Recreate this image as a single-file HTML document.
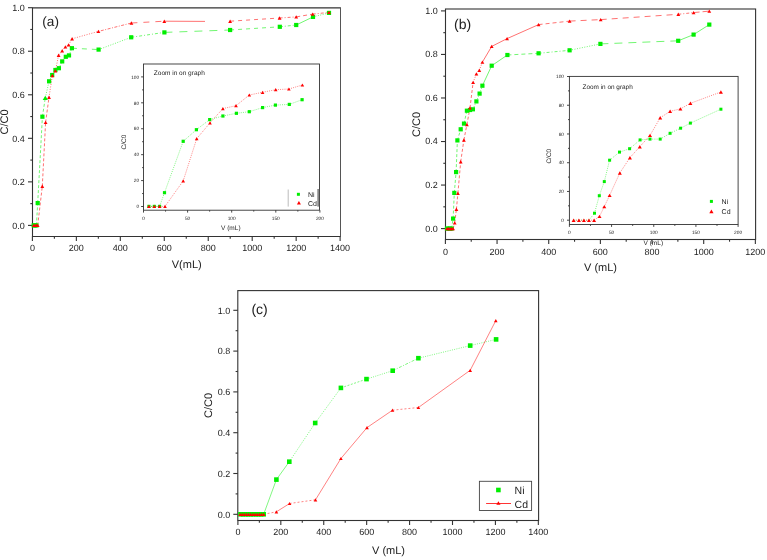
<!DOCTYPE html>
<html><head><meta charset="utf-8"><style>
html,body{margin:0;padding:0;background:#fff;}
body{width:767px;height:560px;overflow:hidden;}
svg{display:block;font-family:"Liberation Sans", sans-serif;text-rendering:geometricPrecision;}
</style></head><body>
<svg width="767" height="560" viewBox="0 0 767 560">
<rect width="767" height="560" fill="#fff"/>
<path d="M340.50,7.90 L32.50,7.90 L32.50,236.50 L340.50,236.50" fill="none" stroke="#333333" stroke-width="1.1"/>
<line x1="340.50" y1="7.35" x2="340.50" y2="237.05" stroke="#555" stroke-width="1.0"/>
<line x1="28.00" y1="225.40" x2="32.50" y2="225.40" stroke="#333333" stroke-width="1.1"/>
<line x1="28.00" y1="181.86" x2="32.50" y2="181.86" stroke="#333333" stroke-width="1.1"/>
<line x1="28.00" y1="138.32" x2="32.50" y2="138.32" stroke="#333333" stroke-width="1.1"/>
<line x1="28.00" y1="94.78" x2="32.50" y2="94.78" stroke="#333333" stroke-width="1.1"/>
<line x1="28.00" y1="51.24" x2="32.50" y2="51.24" stroke="#333333" stroke-width="1.1"/>
<line x1="28.00" y1="7.70" x2="32.50" y2="7.70" stroke="#333333" stroke-width="1.1"/>
<line x1="30.30" y1="203.63" x2="32.50" y2="203.63" stroke="#333333" stroke-width="1.1"/>
<line x1="30.30" y1="160.09" x2="32.50" y2="160.09" stroke="#333333" stroke-width="1.1"/>
<line x1="30.30" y1="116.55" x2="32.50" y2="116.55" stroke="#333333" stroke-width="1.1"/>
<line x1="30.30" y1="73.01" x2="32.50" y2="73.01" stroke="#333333" stroke-width="1.1"/>
<line x1="30.30" y1="29.47" x2="32.50" y2="29.47" stroke="#333333" stroke-width="1.1"/>
<line x1="32.40" y1="236.50" x2="32.40" y2="241.00" stroke="#333333" stroke-width="1.1"/>
<line x1="76.36" y1="236.50" x2="76.36" y2="241.00" stroke="#333333" stroke-width="1.1"/>
<line x1="120.32" y1="236.50" x2="120.32" y2="241.00" stroke="#333333" stroke-width="1.1"/>
<line x1="164.28" y1="236.50" x2="164.28" y2="241.00" stroke="#333333" stroke-width="1.1"/>
<line x1="208.24" y1="236.50" x2="208.24" y2="241.00" stroke="#333333" stroke-width="1.1"/>
<line x1="252.20" y1="236.50" x2="252.20" y2="241.00" stroke="#333333" stroke-width="1.1"/>
<line x1="296.16" y1="236.50" x2="296.16" y2="241.00" stroke="#333333" stroke-width="1.1"/>
<line x1="340.12" y1="236.50" x2="340.12" y2="241.00" stroke="#333333" stroke-width="1.1"/>
<line x1="54.38" y1="236.50" x2="54.38" y2="238.70" stroke="#333333" stroke-width="1.1"/>
<line x1="98.34" y1="236.50" x2="98.34" y2="238.70" stroke="#333333" stroke-width="1.1"/>
<line x1="142.30" y1="236.50" x2="142.30" y2="238.70" stroke="#333333" stroke-width="1.1"/>
<line x1="186.26" y1="236.50" x2="186.26" y2="238.70" stroke="#333333" stroke-width="1.1"/>
<line x1="230.22" y1="236.50" x2="230.22" y2="238.70" stroke="#333333" stroke-width="1.1"/>
<line x1="274.18" y1="236.50" x2="274.18" y2="238.70" stroke="#333333" stroke-width="1.1"/>
<line x1="318.14" y1="236.50" x2="318.14" y2="238.70" stroke="#333333" stroke-width="1.1"/>
<line x1="33.70" y1="225.40" x2="35.00" y2="225.40" stroke="#00ee00" stroke-width="0.8" stroke-dasharray="3,2" stroke-opacity="0.7"/>
<line x1="35.00" y1="225.40" x2="36.40" y2="225.40" stroke="#00ee00" stroke-width="0.8" stroke-dasharray="3,2" stroke-opacity="0.7"/>
<line x1="36.40" y1="225.40" x2="37.70" y2="203.10" stroke="#00ee00" stroke-width="0.8" stroke-dasharray="3,2" stroke-opacity="0.7"/>
<line x1="37.70" y1="203.10" x2="42.40" y2="116.70" stroke="#00ee00" stroke-width="0.8" stroke-dasharray="3,2" stroke-opacity="0.7"/>
<line x1="42.40" y1="116.70" x2="45.30" y2="97.80" stroke="#00ee00" stroke-width="0.8" stroke-dasharray="3,2" stroke-opacity="0.7"/>
<line x1="45.30" y1="97.80" x2="49.10" y2="81.30" stroke="#00ee00" stroke-width="0.8" stroke-dasharray="1,1.5" stroke-opacity="0.7"/>
<line x1="49.10" y1="81.30" x2="52.20" y2="75.00" stroke="#00ee00" stroke-width="0.8" stroke-dasharray="1,1.5" stroke-opacity="0.7"/>
<line x1="52.20" y1="75.00" x2="55.40" y2="70.00" stroke="#00ee00" stroke-width="0.8" stroke-dasharray="1,1.5" stroke-opacity="0.7"/>
<line x1="55.40" y1="70.00" x2="58.90" y2="68.20" stroke="#00ee00" stroke-width="0.8" stroke-dasharray="1,1.5" stroke-opacity="0.7"/>
<line x1="58.90" y1="68.20" x2="62.20" y2="61.40" stroke="#00ee00" stroke-width="0.8" stroke-dasharray="1,1.5" stroke-opacity="0.7"/>
<line x1="62.20" y1="61.40" x2="65.80" y2="56.80" stroke="#00ee00" stroke-width="0.8" stroke-dasharray="1,1.5" stroke-opacity="0.7"/>
<line x1="65.80" y1="56.80" x2="69.00" y2="55.40" stroke="#00ee00" stroke-width="0.8" stroke-dasharray="1,1.5" stroke-opacity="0.7"/>
<line x1="69.00" y1="55.40" x2="71.90" y2="48.20" stroke="#00ee00" stroke-width="0.8" stroke-dasharray="1,1.5" stroke-opacity="0.7"/>
<line x1="71.90" y1="48.20" x2="98.60" y2="49.60" stroke="#00ee00" stroke-width="0.8" stroke-dasharray="5,5" stroke-opacity="0.7"/>
<line x1="98.60" y1="49.60" x2="131.20" y2="37.30" stroke="#00ee00" stroke-width="0.8" stroke-dasharray="1,1.5" stroke-opacity="0.7"/>
<line x1="131.20" y1="37.30" x2="164.40" y2="32.40" stroke="#00ee00" stroke-width="0.8" stroke-dasharray="3,2,1,2" stroke-opacity="0.7"/>
<line x1="164.40" y1="32.40" x2="230.10" y2="30.00" stroke="#00ee00" stroke-width="0.8" stroke-dasharray="8,7" stroke-opacity="0.7"/>
<line x1="230.10" y1="30.00" x2="279.80" y2="26.80" stroke="#00ee00" stroke-width="0.8" stroke-dasharray="4,4" stroke-opacity="0.7"/>
<line x1="279.80" y1="26.80" x2="296.20" y2="25.00" stroke="#00ee00" stroke-width="0.8" stroke-dasharray="3,2,1,2" stroke-opacity="0.7"/>
<line x1="296.20" y1="25.00" x2="313.00" y2="16.90" stroke="#00ee00" stroke-width="0.8" stroke-opacity="0.7"/>
<line x1="313.00" y1="16.90" x2="329.00" y2="12.90" stroke="#00ee00" stroke-width="0.8" stroke-dasharray="1,1.5" stroke-opacity="0.7"/>
<line x1="33.70" y1="225.40" x2="35.00" y2="225.40" stroke="#ff0000" stroke-width="0.8" stroke-dasharray="3,2" stroke-opacity="0.7"/>
<line x1="35.00" y1="225.40" x2="36.40" y2="225.40" stroke="#ff0000" stroke-width="0.8" stroke-dasharray="3,2" stroke-opacity="0.7"/>
<line x1="36.40" y1="225.40" x2="37.70" y2="225.40" stroke="#ff0000" stroke-width="0.8" stroke-dasharray="3,2" stroke-opacity="0.7"/>
<line x1="37.70" y1="225.40" x2="42.30" y2="186.30" stroke="#ff0000" stroke-width="0.8" stroke-dasharray="3,2" stroke-opacity="0.7"/>
<line x1="42.30" y1="186.30" x2="45.60" y2="122.40" stroke="#ff0000" stroke-width="0.8" stroke-dasharray="3,2" stroke-opacity="0.7"/>
<line x1="45.60" y1="122.40" x2="49.00" y2="97.30" stroke="#ff0000" stroke-width="0.8" stroke-dasharray="3,2" stroke-opacity="0.7"/>
<line x1="49.00" y1="97.30" x2="52.40" y2="75.50" stroke="#ff0000" stroke-width="0.8" stroke-dasharray="1,1.5" stroke-opacity="0.7"/>
<line x1="52.40" y1="75.50" x2="55.40" y2="70.90" stroke="#ff0000" stroke-width="0.8" stroke-dasharray="1,1.5" stroke-opacity="0.7"/>
<line x1="55.40" y1="70.90" x2="58.60" y2="55.20" stroke="#ff0000" stroke-width="0.8" stroke-dasharray="1,1.5" stroke-opacity="0.7"/>
<line x1="58.60" y1="55.20" x2="62.20" y2="50.70" stroke="#ff0000" stroke-width="0.8" stroke-dasharray="1,1.5" stroke-opacity="0.7"/>
<line x1="62.20" y1="50.70" x2="65.40" y2="46.90" stroke="#ff0000" stroke-width="0.8" stroke-dasharray="1,1.5" stroke-opacity="0.7"/>
<line x1="65.40" y1="46.90" x2="68.60" y2="44.90" stroke="#ff0000" stroke-width="0.8" stroke-dasharray="1,1.5" stroke-opacity="0.7"/>
<line x1="68.60" y1="44.90" x2="72.10" y2="38.80" stroke="#ff0000" stroke-width="0.8" stroke-dasharray="1,1.5" stroke-opacity="0.7"/>
<line x1="72.10" y1="38.80" x2="98.40" y2="31.40" stroke="#ff0000" stroke-width="0.8" stroke-dasharray="1,1.5" stroke-opacity="0.7"/>
<line x1="98.40" y1="31.40" x2="131.40" y2="23.00" stroke="#ff0000" stroke-width="0.8" stroke-dasharray="1,1.5,3,1.5" stroke-opacity="0.7"/>
<line x1="131.40" y1="23.00" x2="164.30" y2="21.20" stroke="#ff0000" stroke-width="0.8" stroke-dasharray="6,6" stroke-opacity="0.7"/>
<line x1="230.10" y1="21.20" x2="279.60" y2="18.00" stroke="#ff0000" stroke-width="0.8" stroke-dasharray="4,4" stroke-opacity="0.7"/>
<line x1="279.60" y1="18.00" x2="296.20" y2="16.90" stroke="#ff0000" stroke-width="0.8" stroke-dasharray="3,2,1,2" stroke-opacity="0.7"/>
<line x1="296.20" y1="16.90" x2="312.70" y2="14.10" stroke="#ff0000" stroke-width="0.8" stroke-dasharray="4,3" stroke-opacity="0.7"/>
<line x1="312.70" y1="14.10" x2="329.00" y2="12.40" stroke="#ff0000" stroke-width="0.8" stroke-dasharray="3,2,1,2" stroke-opacity="0.7"/>
<line x1="164.30" y1="21.20" x2="205.00" y2="21.40" stroke="#ff0000" stroke-width="0.8" stroke-opacity="0.7"/>
<rect x="31.60" y="223.30" width="4.20" height="4.20" fill="#00ee00"/>
<rect x="32.90" y="223.30" width="4.20" height="4.20" fill="#00ee00"/>
<rect x="34.30" y="223.30" width="4.20" height="4.20" fill="#00ee00"/>
<rect x="35.60" y="201.00" width="4.20" height="4.20" fill="#00ee00"/>
<rect x="40.30" y="114.60" width="4.20" height="4.20" fill="#00ee00"/>
<path d="M42.70,99.90 L47.90,99.90 L45.30,95.70 Z" fill="#00ee00"/>
<rect x="47.00" y="79.20" width="4.20" height="4.20" fill="#00ee00"/>
<rect x="50.10" y="72.90" width="4.20" height="4.20" fill="#00ee00"/>
<rect x="53.30" y="67.90" width="4.20" height="4.20" fill="#00ee00"/>
<rect x="56.80" y="66.10" width="4.20" height="4.20" fill="#00ee00"/>
<rect x="60.10" y="59.30" width="4.20" height="4.20" fill="#00ee00"/>
<rect x="63.70" y="54.70" width="4.20" height="4.20" fill="#00ee00"/>
<rect x="66.90" y="53.30" width="4.20" height="4.20" fill="#00ee00"/>
<rect x="69.80" y="46.10" width="4.20" height="4.20" fill="#00ee00"/>
<rect x="96.50" y="47.50" width="4.20" height="4.20" fill="#00ee00"/>
<rect x="129.10" y="35.20" width="4.20" height="4.20" fill="#00ee00"/>
<rect x="162.30" y="30.30" width="4.20" height="4.20" fill="#00ee00"/>
<rect x="228.00" y="27.90" width="4.20" height="4.20" fill="#00ee00"/>
<rect x="277.70" y="24.70" width="4.20" height="4.20" fill="#00ee00"/>
<rect x="294.10" y="22.90" width="4.20" height="4.20" fill="#00ee00"/>
<rect x="310.90" y="14.80" width="4.20" height="4.20" fill="#00ee00"/>
<rect x="326.90" y="10.80" width="4.20" height="4.20" fill="#00ee00"/>
<path d="M31.80,227.10 L35.60,227.10 L33.70,223.70 Z" fill="#ff0000"/>
<path d="M33.10,227.10 L36.90,227.10 L35.00,223.70 Z" fill="#ff0000"/>
<path d="M34.50,227.10 L38.30,227.10 L36.40,223.70 Z" fill="#ff0000"/>
<path d="M35.80,227.10 L39.60,227.10 L37.70,223.70 Z" fill="#ff0000"/>
<path d="M40.40,188.00 L44.20,188.00 L42.30,184.60 Z" fill="#ff0000"/>
<path d="M43.70,124.10 L47.50,124.10 L45.60,120.70 Z" fill="#ff0000"/>
<path d="M47.10,99.00 L50.90,99.00 L49.00,95.60 Z" fill="#ff0000"/>
<path d="M50.50,77.20 L54.30,77.20 L52.40,73.80 Z" fill="#ff0000"/>
<path d="M53.50,72.60 L57.30,72.60 L55.40,69.20 Z" fill="#ff0000"/>
<path d="M56.70,56.90 L60.50,56.90 L58.60,53.50 Z" fill="#ff0000"/>
<path d="M60.30,52.40 L64.10,52.40 L62.20,49.00 Z" fill="#ff0000"/>
<path d="M63.50,48.60 L67.30,48.60 L65.40,45.20 Z" fill="#ff0000"/>
<path d="M66.70,46.60 L70.50,46.60 L68.60,43.20 Z" fill="#ff0000"/>
<path d="M70.20,40.50 L74.00,40.50 L72.10,37.10 Z" fill="#ff0000"/>
<path d="M96.50,33.10 L100.30,33.10 L98.40,29.70 Z" fill="#ff0000"/>
<path d="M129.50,24.70 L133.30,24.70 L131.40,21.30 Z" fill="#ff0000"/>
<path d="M162.40,22.90 L166.20,22.90 L164.30,19.50 Z" fill="#ff0000"/>
<path d="M228.20,22.90 L232.00,22.90 L230.10,19.50 Z" fill="#ff0000"/>
<path d="M277.70,19.70 L281.50,19.70 L279.60,16.30 Z" fill="#ff0000"/>
<path d="M294.30,18.60 L298.10,18.60 L296.20,15.20 Z" fill="#ff0000"/>
<path d="M310.80,15.80 L314.60,15.80 L312.70,12.40 Z" fill="#ff0000"/>
<path d="M327.10,14.10 L330.90,14.10 L329.00,10.70 Z" fill="#ff0000"/>
<rect x="143.50" y="64.00" width="176.00" height="146.20" fill="none" stroke="#333333" stroke-width="0.9"/>
<line x1="141.10" y1="206.50" x2="143.50" y2="206.50" stroke="#333333" stroke-width="0.9"/>
<line x1="141.10" y1="180.58" x2="143.50" y2="180.58" stroke="#333333" stroke-width="0.9"/>
<line x1="141.10" y1="154.66" x2="143.50" y2="154.66" stroke="#333333" stroke-width="0.9"/>
<line x1="141.10" y1="128.74" x2="143.50" y2="128.74" stroke="#333333" stroke-width="0.9"/>
<line x1="141.10" y1="102.82" x2="143.50" y2="102.82" stroke="#333333" stroke-width="0.9"/>
<line x1="141.10" y1="76.90" x2="143.50" y2="76.90" stroke="#333333" stroke-width="0.9"/>
<line x1="142.10" y1="193.54" x2="143.50" y2="193.54" stroke="#333333" stroke-width="0.9"/>
<line x1="142.10" y1="167.62" x2="143.50" y2="167.62" stroke="#333333" stroke-width="0.9"/>
<line x1="142.10" y1="141.70" x2="143.50" y2="141.70" stroke="#333333" stroke-width="0.9"/>
<line x1="142.10" y1="115.78" x2="143.50" y2="115.78" stroke="#333333" stroke-width="0.9"/>
<line x1="142.10" y1="89.86" x2="143.50" y2="89.86" stroke="#333333" stroke-width="0.9"/>
<line x1="143.50" y1="210.20" x2="143.50" y2="212.60" stroke="#333333" stroke-width="0.9"/>
<line x1="187.60" y1="210.20" x2="187.60" y2="212.60" stroke="#333333" stroke-width="0.9"/>
<line x1="231.70" y1="210.20" x2="231.70" y2="212.60" stroke="#333333" stroke-width="0.9"/>
<line x1="275.80" y1="210.20" x2="275.80" y2="212.60" stroke="#333333" stroke-width="0.9"/>
<line x1="319.90" y1="210.20" x2="319.90" y2="212.60" stroke="#333333" stroke-width="0.9"/>
<line x1="165.55" y1="210.20" x2="165.55" y2="211.60" stroke="#333333" stroke-width="0.9"/>
<line x1="209.65" y1="210.20" x2="209.65" y2="211.60" stroke="#333333" stroke-width="0.9"/>
<line x1="253.75" y1="210.20" x2="253.75" y2="211.60" stroke="#333333" stroke-width="0.9"/>
<line x1="297.85" y1="210.20" x2="297.85" y2="211.60" stroke="#333333" stroke-width="0.9"/>
<line x1="148.90" y1="206.40" x2="154.30" y2="206.40" stroke="#00ee00" stroke-width="0.7" stroke-dasharray="1,1.2" stroke-opacity="0.7"/>
<line x1="154.30" y1="206.40" x2="159.60" y2="206.40" stroke="#00ee00" stroke-width="0.7" stroke-dasharray="1,1.2" stroke-opacity="0.7"/>
<line x1="159.60" y1="206.40" x2="164.50" y2="192.70" stroke="#00ee00" stroke-width="0.7" stroke-dasharray="1,1.2" stroke-opacity="0.7"/>
<line x1="164.50" y1="192.70" x2="183.20" y2="141.30" stroke="#00ee00" stroke-width="0.7" stroke-dasharray="1,1.2" stroke-opacity="0.7"/>
<line x1="183.20" y1="141.30" x2="196.40" y2="129.70" stroke="#00ee00" stroke-width="0.7" stroke-dasharray="1,1.2" stroke-opacity="0.7"/>
<line x1="196.40" y1="129.70" x2="209.70" y2="119.60" stroke="#00ee00" stroke-width="0.7" stroke-dasharray="1,1.2" stroke-opacity="0.7"/>
<line x1="209.70" y1="119.60" x2="222.90" y2="116.00" stroke="#00ee00" stroke-width="0.7" stroke-dasharray="1,1.2" stroke-opacity="0.7"/>
<line x1="222.90" y1="116.00" x2="236.40" y2="113.30" stroke="#00ee00" stroke-width="0.7" stroke-dasharray="1,1.2" stroke-opacity="0.7"/>
<line x1="236.40" y1="113.30" x2="249.30" y2="111.70" stroke="#00ee00" stroke-width="0.7" stroke-dasharray="1,1.2" stroke-opacity="0.7"/>
<line x1="249.30" y1="111.70" x2="262.60" y2="107.60" stroke="#00ee00" stroke-width="0.7" stroke-dasharray="1,1.2" stroke-opacity="0.7"/>
<line x1="262.60" y1="107.60" x2="275.40" y2="105.10" stroke="#00ee00" stroke-width="0.7" stroke-dasharray="1,1.2" stroke-opacity="0.7"/>
<line x1="275.40" y1="105.10" x2="289.30" y2="104.40" stroke="#00ee00" stroke-width="0.7" stroke-dasharray="1,1.2" stroke-opacity="0.7"/>
<line x1="289.30" y1="104.40" x2="302.10" y2="99.70" stroke="#00ee00" stroke-width="0.7" stroke-dasharray="1,1.2" stroke-opacity="0.7"/>
<line x1="148.90" y1="206.40" x2="154.30" y2="206.40" stroke="#ff0000" stroke-width="0.7" stroke-dasharray="1,1.2" stroke-opacity="0.7"/>
<line x1="154.30" y1="206.40" x2="159.60" y2="206.40" stroke="#ff0000" stroke-width="0.7" stroke-dasharray="1,1.2" stroke-opacity="0.7"/>
<line x1="159.60" y1="206.40" x2="165.00" y2="206.40" stroke="#ff0000" stroke-width="0.7" stroke-dasharray="1,1.2" stroke-opacity="0.7"/>
<line x1="165.00" y1="206.40" x2="183.20" y2="180.90" stroke="#ff0000" stroke-width="0.7" stroke-dasharray="1,1.2" stroke-opacity="0.7"/>
<line x1="183.20" y1="180.90" x2="196.70" y2="138.70" stroke="#ff0000" stroke-width="0.7" stroke-dasharray="1,1.2" stroke-opacity="0.7"/>
<line x1="196.70" y1="138.70" x2="210.00" y2="122.90" stroke="#ff0000" stroke-width="0.7" stroke-dasharray="1,1.2" stroke-opacity="0.7"/>
<line x1="210.00" y1="122.90" x2="222.90" y2="108.60" stroke="#ff0000" stroke-width="0.7" stroke-dasharray="1,1.2" stroke-opacity="0.7"/>
<line x1="222.90" y1="108.60" x2="236.00" y2="105.70" stroke="#ff0000" stroke-width="0.7" stroke-dasharray="1,1.2" stroke-opacity="0.7"/>
<line x1="236.00" y1="105.70" x2="249.30" y2="95.00" stroke="#ff0000" stroke-width="0.7" stroke-dasharray="1,1.2" stroke-opacity="0.7"/>
<line x1="249.30" y1="95.00" x2="262.60" y2="92.30" stroke="#ff0000" stroke-width="0.7" stroke-dasharray="1,1.2" stroke-opacity="0.7"/>
<line x1="262.60" y1="92.30" x2="275.70" y2="89.70" stroke="#ff0000" stroke-width="0.7" stroke-dasharray="1,1.2" stroke-opacity="0.7"/>
<line x1="275.70" y1="89.70" x2="288.90" y2="89.00" stroke="#ff0000" stroke-width="0.7" stroke-dasharray="1,1.2" stroke-opacity="0.7"/>
<line x1="288.90" y1="89.00" x2="302.40" y2="85.00" stroke="#ff0000" stroke-width="0.7" stroke-dasharray="1,1.2" stroke-opacity="0.7"/>
<rect x="147.30" y="204.80" width="3.20" height="3.20" fill="#00ee00"/>
<rect x="152.70" y="204.80" width="3.20" height="3.20" fill="#00ee00"/>
<rect x="158.00" y="204.80" width="3.20" height="3.20" fill="#00ee00"/>
<rect x="162.90" y="191.10" width="3.20" height="3.20" fill="#00ee00"/>
<rect x="181.60" y="139.70" width="3.20" height="3.20" fill="#00ee00"/>
<rect x="194.80" y="128.10" width="3.20" height="3.20" fill="#00ee00"/>
<rect x="208.10" y="118.00" width="3.20" height="3.20" fill="#00ee00"/>
<rect x="221.30" y="114.40" width="3.20" height="3.20" fill="#00ee00"/>
<rect x="234.80" y="111.70" width="3.20" height="3.20" fill="#00ee00"/>
<rect x="247.70" y="110.10" width="3.20" height="3.20" fill="#00ee00"/>
<rect x="261.00" y="106.00" width="3.20" height="3.20" fill="#00ee00"/>
<rect x="273.80" y="103.50" width="3.20" height="3.20" fill="#00ee00"/>
<rect x="287.70" y="102.80" width="3.20" height="3.20" fill="#00ee00"/>
<rect x="300.50" y="98.10" width="3.20" height="3.20" fill="#00ee00"/>
<path d="M147.10,208.00 L150.70,208.00 L148.90,204.80 Z" fill="#ff0000"/>
<path d="M152.50,208.00 L156.10,208.00 L154.30,204.80 Z" fill="#ff0000"/>
<path d="M157.80,208.00 L161.40,208.00 L159.60,204.80 Z" fill="#ff0000"/>
<path d="M163.20,208.00 L166.80,208.00 L165.00,204.80 Z" fill="#ff0000"/>
<path d="M181.40,182.50 L185.00,182.50 L183.20,179.30 Z" fill="#ff0000"/>
<path d="M194.90,140.30 L198.50,140.30 L196.70,137.10 Z" fill="#ff0000"/>
<path d="M208.20,124.50 L211.80,124.50 L210.00,121.30 Z" fill="#ff0000"/>
<path d="M221.10,110.20 L224.70,110.20 L222.90,107.00 Z" fill="#ff0000"/>
<path d="M234.20,107.30 L237.80,107.30 L236.00,104.10 Z" fill="#ff0000"/>
<path d="M247.50,96.60 L251.10,96.60 L249.30,93.40 Z" fill="#ff0000"/>
<path d="M260.80,93.90 L264.40,93.90 L262.60,90.70 Z" fill="#ff0000"/>
<path d="M273.90,91.30 L277.50,91.30 L275.70,88.10 Z" fill="#ff0000"/>
<path d="M287.10,90.60 L290.70,90.60 L288.90,87.40 Z" fill="#ff0000"/>
<path d="M300.60,86.60 L304.20,86.60 L302.40,83.40 Z" fill="#ff0000"/>
<line x1="288.20" y1="189.50" x2="288.20" y2="206.60" stroke="#bbbbbb" stroke-width="1.0"/>
<line x1="318.20" y1="189.00" x2="318.20" y2="206.60" stroke="#888888" stroke-width="1.8"/>
<rect x="296.90" y="192.80" width="3.00" height="3.00" fill="#00ee00"/>
<path d="M296.90,204.45 L300.90,204.45 L298.90,200.95 Z" fill="#ff0000"/>
<rect x="445.50" y="9.00" width="310.10" height="230.50" fill="none" stroke="#333333" stroke-width="1.1"/>
<line x1="441.00" y1="228.60" x2="445.50" y2="228.60" stroke="#333333" stroke-width="1.1"/>
<line x1="441.00" y1="185.06" x2="445.50" y2="185.06" stroke="#333333" stroke-width="1.1"/>
<line x1="441.00" y1="141.52" x2="445.50" y2="141.52" stroke="#333333" stroke-width="1.1"/>
<line x1="441.00" y1="97.98" x2="445.50" y2="97.98" stroke="#333333" stroke-width="1.1"/>
<line x1="441.00" y1="54.44" x2="445.50" y2="54.44" stroke="#333333" stroke-width="1.1"/>
<line x1="441.00" y1="10.90" x2="445.50" y2="10.90" stroke="#333333" stroke-width="1.1"/>
<line x1="443.30" y1="206.83" x2="445.50" y2="206.83" stroke="#333333" stroke-width="1.1"/>
<line x1="443.30" y1="163.29" x2="445.50" y2="163.29" stroke="#333333" stroke-width="1.1"/>
<line x1="443.30" y1="119.75" x2="445.50" y2="119.75" stroke="#333333" stroke-width="1.1"/>
<line x1="443.30" y1="76.21" x2="445.50" y2="76.21" stroke="#333333" stroke-width="1.1"/>
<line x1="443.30" y1="32.67" x2="445.50" y2="32.67" stroke="#333333" stroke-width="1.1"/>
<line x1="445.40" y1="239.50" x2="445.40" y2="244.00" stroke="#333333" stroke-width="1.1"/>
<line x1="497.06" y1="239.50" x2="497.06" y2="244.00" stroke="#333333" stroke-width="1.1"/>
<line x1="548.72" y1="239.50" x2="548.72" y2="244.00" stroke="#333333" stroke-width="1.1"/>
<line x1="600.38" y1="239.50" x2="600.38" y2="244.00" stroke="#333333" stroke-width="1.1"/>
<line x1="652.04" y1="239.50" x2="652.04" y2="244.00" stroke="#333333" stroke-width="1.1"/>
<line x1="703.70" y1="239.50" x2="703.70" y2="244.00" stroke="#333333" stroke-width="1.1"/>
<line x1="755.36" y1="239.50" x2="755.36" y2="244.00" stroke="#333333" stroke-width="1.1"/>
<line x1="471.23" y1="239.50" x2="471.23" y2="241.70" stroke="#333333" stroke-width="1.1"/>
<line x1="522.89" y1="239.50" x2="522.89" y2="241.70" stroke="#333333" stroke-width="1.1"/>
<line x1="574.55" y1="239.50" x2="574.55" y2="241.70" stroke="#333333" stroke-width="1.1"/>
<line x1="626.21" y1="239.50" x2="626.21" y2="241.70" stroke="#333333" stroke-width="1.1"/>
<line x1="677.87" y1="239.50" x2="677.87" y2="241.70" stroke="#333333" stroke-width="1.1"/>
<line x1="729.53" y1="239.50" x2="729.53" y2="241.70" stroke="#333333" stroke-width="1.1"/>
<line x1="447.00" y1="228.60" x2="448.50" y2="228.60" stroke="#00ee00" stroke-width="0.8" stroke-dasharray="3,2" stroke-opacity="0.7"/>
<line x1="448.50" y1="228.60" x2="450.00" y2="228.60" stroke="#00ee00" stroke-width="0.8" stroke-dasharray="3,2" stroke-opacity="0.7"/>
<line x1="450.00" y1="228.60" x2="451.60" y2="228.60" stroke="#00ee00" stroke-width="0.8" stroke-dasharray="3,2" stroke-opacity="0.7"/>
<line x1="451.60" y1="228.60" x2="453.10" y2="218.60" stroke="#00ee00" stroke-width="0.8" stroke-dasharray="3,2" stroke-opacity="0.7"/>
<line x1="453.10" y1="218.60" x2="454.30" y2="192.90" stroke="#00ee00" stroke-width="0.8" stroke-dasharray="3,2" stroke-opacity="0.7"/>
<line x1="454.30" y1="192.90" x2="456.10" y2="172.10" stroke="#00ee00" stroke-width="0.8" stroke-dasharray="3,2" stroke-opacity="0.7"/>
<line x1="456.10" y1="172.10" x2="457.40" y2="140.40" stroke="#00ee00" stroke-width="0.8" stroke-dasharray="3,2" stroke-opacity="0.7"/>
<line x1="457.40" y1="140.40" x2="460.70" y2="129.30" stroke="#00ee00" stroke-width="0.8" stroke-dasharray="3,2" stroke-opacity="0.7"/>
<line x1="460.70" y1="129.30" x2="464.00" y2="123.60" stroke="#00ee00" stroke-width="0.8" stroke-dasharray="3,2" stroke-opacity="0.7"/>
<line x1="464.00" y1="123.60" x2="466.90" y2="110.70" stroke="#00ee00" stroke-width="0.8" stroke-dasharray="3,2" stroke-opacity="0.7"/>
<line x1="466.90" y1="110.70" x2="470.00" y2="110.00" stroke="#00ee00" stroke-width="0.8" stroke-dasharray="1,1.5" stroke-opacity="0.7"/>
<line x1="470.00" y1="110.00" x2="472.90" y2="109.30" stroke="#00ee00" stroke-width="0.8" stroke-dasharray="1,1.5" stroke-opacity="0.7"/>
<line x1="472.90" y1="109.30" x2="476.40" y2="101.40" stroke="#00ee00" stroke-width="0.8" stroke-dasharray="1,1.5" stroke-opacity="0.7"/>
<line x1="476.40" y1="101.40" x2="479.60" y2="93.60" stroke="#00ee00" stroke-width="0.8" stroke-dasharray="1,1.5" stroke-opacity="0.7"/>
<line x1="479.60" y1="93.60" x2="482.40" y2="85.70" stroke="#00ee00" stroke-width="0.8" stroke-dasharray="1,1.5" stroke-opacity="0.7"/>
<line x1="482.40" y1="85.70" x2="491.70" y2="65.70" stroke="#00ee00" stroke-width="0.8" stroke-opacity="0.7"/>
<line x1="491.70" y1="65.70" x2="507.40" y2="55.00" stroke="#00ee00" stroke-width="0.8" stroke-opacity="0.7"/>
<line x1="507.40" y1="55.00" x2="538.60" y2="53.30" stroke="#00ee00" stroke-width="0.8" stroke-dasharray="4,3" stroke-opacity="0.7"/>
<line x1="538.60" y1="53.30" x2="569.60" y2="50.30" stroke="#00ee00" stroke-width="0.8" stroke-dasharray="3,2,1,2" stroke-opacity="0.7"/>
<line x1="569.60" y1="50.30" x2="600.40" y2="43.90" stroke="#00ee00" stroke-width="0.8" stroke-dasharray="1,1.5" stroke-opacity="0.7"/>
<line x1="600.40" y1="43.90" x2="678.20" y2="40.80" stroke="#00ee00" stroke-width="0.8" stroke-dasharray="8,6" stroke-opacity="0.7"/>
<line x1="678.20" y1="40.80" x2="693.60" y2="34.60" stroke="#00ee00" stroke-width="0.8" stroke-opacity="0.7"/>
<line x1="693.60" y1="34.60" x2="709.30" y2="24.60" stroke="#00ee00" stroke-width="0.8" stroke-opacity="0.7"/>
<line x1="447.00" y1="228.60" x2="448.50" y2="228.60" stroke="#ff0000" stroke-width="0.8" stroke-dasharray="3,2" stroke-opacity="0.7"/>
<line x1="448.50" y1="228.60" x2="450.00" y2="228.60" stroke="#ff0000" stroke-width="0.8" stroke-dasharray="3,2" stroke-opacity="0.7"/>
<line x1="450.00" y1="228.60" x2="451.60" y2="228.60" stroke="#ff0000" stroke-width="0.8" stroke-dasharray="3,2" stroke-opacity="0.7"/>
<line x1="451.60" y1="228.60" x2="453.10" y2="228.60" stroke="#ff0000" stroke-width="0.8" stroke-dasharray="3,2" stroke-opacity="0.7"/>
<line x1="453.10" y1="228.60" x2="454.70" y2="222.90" stroke="#ff0000" stroke-width="0.8" stroke-dasharray="3,2" stroke-opacity="0.7"/>
<line x1="454.70" y1="222.90" x2="456.40" y2="209.30" stroke="#ff0000" stroke-width="0.8" stroke-dasharray="3,2" stroke-opacity="0.7"/>
<line x1="456.40" y1="209.30" x2="457.90" y2="193.30" stroke="#ff0000" stroke-width="0.8" stroke-dasharray="3,2" stroke-opacity="0.7"/>
<line x1="457.90" y1="193.30" x2="460.70" y2="161.70" stroke="#ff0000" stroke-width="0.8" stroke-dasharray="3,2" stroke-opacity="0.7"/>
<line x1="460.70" y1="161.70" x2="463.90" y2="140.00" stroke="#ff0000" stroke-width="0.8" stroke-dasharray="3,2" stroke-opacity="0.7"/>
<line x1="463.90" y1="140.00" x2="466.90" y2="124.60" stroke="#ff0000" stroke-width="0.8" stroke-dasharray="3,2" stroke-opacity="0.7"/>
<line x1="466.90" y1="124.60" x2="470.00" y2="107.90" stroke="#ff0000" stroke-width="0.8" stroke-dasharray="3,2" stroke-opacity="0.7"/>
<line x1="470.00" y1="107.90" x2="473.10" y2="82.40" stroke="#ff0000" stroke-width="0.8" stroke-dasharray="3,2" stroke-opacity="0.7"/>
<line x1="473.10" y1="82.40" x2="476.40" y2="73.90" stroke="#ff0000" stroke-width="0.8" stroke-dasharray="1,1.5" stroke-opacity="0.7"/>
<line x1="476.40" y1="73.90" x2="479.30" y2="70.30" stroke="#ff0000" stroke-width="0.8" stroke-dasharray="1,1.5" stroke-opacity="0.7"/>
<line x1="479.30" y1="70.30" x2="482.40" y2="62.10" stroke="#ff0000" stroke-width="0.8" stroke-dasharray="1,1.5" stroke-opacity="0.7"/>
<line x1="482.40" y1="62.10" x2="491.70" y2="46.40" stroke="#ff0000" stroke-width="0.8" stroke-opacity="0.7"/>
<line x1="491.70" y1="46.40" x2="507.10" y2="38.60" stroke="#ff0000" stroke-width="0.8" stroke-opacity="0.7"/>
<line x1="507.10" y1="38.60" x2="538.60" y2="24.60" stroke="#ff0000" stroke-width="0.8" stroke-opacity="0.7"/>
<line x1="538.60" y1="24.60" x2="569.60" y2="21.10" stroke="#ff0000" stroke-width="0.8" stroke-dasharray="4,3" stroke-opacity="0.7"/>
<line x1="569.60" y1="21.10" x2="600.70" y2="19.60" stroke="#ff0000" stroke-width="0.8" stroke-dasharray="6,5" stroke-opacity="0.7"/>
<line x1="600.70" y1="19.60" x2="678.30" y2="14.30" stroke="#ff0000" stroke-width="0.8" stroke-dasharray="6,5" stroke-opacity="0.7"/>
<line x1="678.30" y1="14.30" x2="693.60" y2="12.60" stroke="#ff0000" stroke-width="0.8" stroke-dasharray="3,2,1,2" stroke-opacity="0.7"/>
<line x1="693.60" y1="12.60" x2="709.30" y2="11.10" stroke="#ff0000" stroke-width="0.8" stroke-dasharray="6,3" stroke-opacity="0.7"/>
<rect x="444.90" y="226.50" width="4.20" height="4.20" fill="#00ee00"/>
<rect x="446.40" y="226.50" width="4.20" height="4.20" fill="#00ee00"/>
<rect x="447.90" y="226.50" width="4.20" height="4.20" fill="#00ee00"/>
<rect x="449.50" y="226.50" width="4.20" height="4.20" fill="#00ee00"/>
<rect x="451.00" y="216.50" width="4.20" height="4.20" fill="#00ee00"/>
<rect x="452.20" y="190.80" width="4.20" height="4.20" fill="#00ee00"/>
<rect x="454.00" y="170.00" width="4.20" height="4.20" fill="#00ee00"/>
<rect x="455.30" y="138.30" width="4.20" height="4.20" fill="#00ee00"/>
<rect x="458.60" y="127.20" width="4.20" height="4.20" fill="#00ee00"/>
<rect x="461.90" y="121.50" width="4.20" height="4.20" fill="#00ee00"/>
<rect x="464.80" y="108.60" width="4.20" height="4.20" fill="#00ee00"/>
<rect x="467.90" y="107.90" width="4.20" height="4.20" fill="#00ee00"/>
<rect x="470.80" y="107.20" width="4.20" height="4.20" fill="#00ee00"/>
<rect x="474.30" y="99.30" width="4.20" height="4.20" fill="#00ee00"/>
<rect x="477.50" y="91.50" width="4.20" height="4.20" fill="#00ee00"/>
<rect x="480.30" y="83.60" width="4.20" height="4.20" fill="#00ee00"/>
<rect x="489.60" y="63.60" width="4.20" height="4.20" fill="#00ee00"/>
<rect x="505.30" y="52.90" width="4.20" height="4.20" fill="#00ee00"/>
<rect x="536.50" y="51.20" width="4.20" height="4.20" fill="#00ee00"/>
<rect x="567.50" y="48.20" width="4.20" height="4.20" fill="#00ee00"/>
<rect x="598.30" y="41.80" width="4.20" height="4.20" fill="#00ee00"/>
<rect x="676.10" y="38.70" width="4.20" height="4.20" fill="#00ee00"/>
<rect x="691.50" y="32.50" width="4.20" height="4.20" fill="#00ee00"/>
<rect x="707.20" y="22.50" width="4.20" height="4.20" fill="#00ee00"/>
<path d="M445.10,230.30 L448.90,230.30 L447.00,226.90 Z" fill="#ff0000"/>
<path d="M446.60,230.30 L450.40,230.30 L448.50,226.90 Z" fill="#ff0000"/>
<path d="M448.10,230.30 L451.90,230.30 L450.00,226.90 Z" fill="#ff0000"/>
<path d="M449.70,230.30 L453.50,230.30 L451.60,226.90 Z" fill="#ff0000"/>
<path d="M451.20,230.30 L455.00,230.30 L453.10,226.90 Z" fill="#ff0000"/>
<path d="M452.80,224.60 L456.60,224.60 L454.70,221.20 Z" fill="#ff0000"/>
<path d="M454.50,211.00 L458.30,211.00 L456.40,207.60 Z" fill="#ff0000"/>
<path d="M456.00,195.00 L459.80,195.00 L457.90,191.60 Z" fill="#ff0000"/>
<path d="M458.80,163.40 L462.60,163.40 L460.70,160.00 Z" fill="#ff0000"/>
<path d="M462.00,141.70 L465.80,141.70 L463.90,138.30 Z" fill="#ff0000"/>
<path d="M465.00,126.30 L468.80,126.30 L466.90,122.90 Z" fill="#ff0000"/>
<path d="M468.10,109.60 L471.90,109.60 L470.00,106.20 Z" fill="#ff0000"/>
<path d="M471.20,84.10 L475.00,84.10 L473.10,80.70 Z" fill="#ff0000"/>
<path d="M474.50,75.60 L478.30,75.60 L476.40,72.20 Z" fill="#ff0000"/>
<path d="M477.40,72.00 L481.20,72.00 L479.30,68.60 Z" fill="#ff0000"/>
<path d="M480.50,63.80 L484.30,63.80 L482.40,60.40 Z" fill="#ff0000"/>
<path d="M489.80,48.10 L493.60,48.10 L491.70,44.70 Z" fill="#ff0000"/>
<path d="M505.20,40.30 L509.00,40.30 L507.10,36.90 Z" fill="#ff0000"/>
<path d="M536.70,26.30 L540.50,26.30 L538.60,22.90 Z" fill="#ff0000"/>
<path d="M567.70,22.80 L571.50,22.80 L569.60,19.40 Z" fill="#ff0000"/>
<path d="M598.80,21.30 L602.60,21.30 L600.70,17.90 Z" fill="#ff0000"/>
<path d="M676.40,16.00 L680.20,16.00 L678.30,12.60 Z" fill="#ff0000"/>
<path d="M691.70,14.30 L695.50,14.30 L693.60,10.90 Z" fill="#ff0000"/>
<path d="M707.40,12.80 L711.20,12.80 L709.30,9.40 Z" fill="#ff0000"/>
<rect x="569.40" y="76.40" width="168.70" height="148.10" fill="none" stroke="#333333" stroke-width="0.9"/>
<line x1="567.00" y1="220.20" x2="569.40" y2="220.20" stroke="#333333" stroke-width="0.9"/>
<line x1="567.00" y1="191.46" x2="569.40" y2="191.46" stroke="#333333" stroke-width="0.9"/>
<line x1="567.00" y1="162.72" x2="569.40" y2="162.72" stroke="#333333" stroke-width="0.9"/>
<line x1="567.00" y1="133.98" x2="569.40" y2="133.98" stroke="#333333" stroke-width="0.9"/>
<line x1="567.00" y1="105.24" x2="569.40" y2="105.24" stroke="#333333" stroke-width="0.9"/>
<line x1="567.00" y1="76.50" x2="569.40" y2="76.50" stroke="#333333" stroke-width="0.9"/>
<line x1="568.00" y1="205.83" x2="569.40" y2="205.83" stroke="#333333" stroke-width="0.9"/>
<line x1="568.00" y1="177.09" x2="569.40" y2="177.09" stroke="#333333" stroke-width="0.9"/>
<line x1="568.00" y1="148.35" x2="569.40" y2="148.35" stroke="#333333" stroke-width="0.9"/>
<line x1="568.00" y1="119.61" x2="569.40" y2="119.61" stroke="#333333" stroke-width="0.9"/>
<line x1="568.00" y1="90.87" x2="569.40" y2="90.87" stroke="#333333" stroke-width="0.9"/>
<line x1="569.40" y1="224.50" x2="569.40" y2="226.90" stroke="#333333" stroke-width="0.9"/>
<line x1="611.57" y1="224.50" x2="611.57" y2="226.90" stroke="#333333" stroke-width="0.9"/>
<line x1="653.75" y1="224.50" x2="653.75" y2="226.90" stroke="#333333" stroke-width="0.9"/>
<line x1="695.92" y1="224.50" x2="695.92" y2="226.90" stroke="#333333" stroke-width="0.9"/>
<line x1="738.10" y1="224.50" x2="738.10" y2="226.90" stroke="#333333" stroke-width="0.9"/>
<line x1="590.49" y1="224.50" x2="590.49" y2="225.90" stroke="#333333" stroke-width="0.9"/>
<line x1="632.66" y1="224.50" x2="632.66" y2="225.90" stroke="#333333" stroke-width="0.9"/>
<line x1="674.84" y1="224.50" x2="674.84" y2="225.90" stroke="#333333" stroke-width="0.9"/>
<line x1="717.01" y1="224.50" x2="717.01" y2="225.90" stroke="#333333" stroke-width="0.9"/>
<line x1="573.60" y1="220.20" x2="578.90" y2="220.20" stroke="#00ee00" stroke-width="0.7" stroke-dasharray="1,1.2" stroke-opacity="0.7"/>
<line x1="578.90" y1="220.20" x2="583.90" y2="220.20" stroke="#00ee00" stroke-width="0.7" stroke-dasharray="1,1.2" stroke-opacity="0.7"/>
<line x1="583.90" y1="220.20" x2="588.90" y2="220.20" stroke="#00ee00" stroke-width="0.7" stroke-dasharray="1,1.2" stroke-opacity="0.7"/>
<line x1="588.90" y1="220.20" x2="594.50" y2="213.20" stroke="#00ee00" stroke-width="0.7" stroke-dasharray="1,1.2" stroke-opacity="0.7"/>
<line x1="594.50" y1="213.20" x2="599.30" y2="195.70" stroke="#00ee00" stroke-width="0.7" stroke-dasharray="1,1.2" stroke-opacity="0.7"/>
<line x1="599.30" y1="195.70" x2="604.30" y2="181.60" stroke="#00ee00" stroke-width="0.7" stroke-dasharray="1,1.2" stroke-opacity="0.7"/>
<line x1="604.30" y1="181.60" x2="609.60" y2="160.20" stroke="#00ee00" stroke-width="0.7" stroke-dasharray="1,1.2" stroke-opacity="0.7"/>
<line x1="609.60" y1="160.20" x2="619.50" y2="152.10" stroke="#00ee00" stroke-width="0.7" stroke-dasharray="1,1.2" stroke-opacity="0.7"/>
<line x1="619.50" y1="152.10" x2="629.60" y2="148.70" stroke="#00ee00" stroke-width="0.7" stroke-dasharray="1,1.2" stroke-opacity="0.7"/>
<line x1="629.60" y1="148.70" x2="640.10" y2="139.90" stroke="#00ee00" stroke-width="0.7" stroke-dasharray="1,1.2" stroke-opacity="0.7"/>
<line x1="640.10" y1="139.90" x2="650.00" y2="139.10" stroke="#00ee00" stroke-width="0.7" stroke-dasharray="1,1.2" stroke-opacity="0.7"/>
<line x1="650.00" y1="139.10" x2="660.20" y2="139.10" stroke="#00ee00" stroke-width="0.7" stroke-dasharray="1,1.2" stroke-opacity="0.7"/>
<line x1="660.20" y1="139.10" x2="670.10" y2="133.30" stroke="#00ee00" stroke-width="0.7" stroke-dasharray="1,1.2" stroke-opacity="0.7"/>
<line x1="670.10" y1="133.30" x2="680.60" y2="128.20" stroke="#00ee00" stroke-width="0.7" stroke-dasharray="1,1.2" stroke-opacity="0.7"/>
<line x1="680.60" y1="128.20" x2="690.40" y2="123.10" stroke="#00ee00" stroke-width="0.7" stroke-dasharray="1,1.2" stroke-opacity="0.7"/>
<line x1="690.40" y1="123.10" x2="720.90" y2="109.20" stroke="#00ee00" stroke-width="0.7" stroke-dasharray="1,1.2" stroke-opacity="0.7"/>
<line x1="573.60" y1="220.20" x2="578.90" y2="220.20" stroke="#ff0000" stroke-width="0.7" stroke-dasharray="1,1.2" stroke-opacity="0.7"/>
<line x1="578.90" y1="220.20" x2="583.90" y2="220.20" stroke="#ff0000" stroke-width="0.7" stroke-dasharray="1,1.2" stroke-opacity="0.7"/>
<line x1="583.90" y1="220.20" x2="588.90" y2="220.20" stroke="#ff0000" stroke-width="0.7" stroke-dasharray="1,1.2" stroke-opacity="0.7"/>
<line x1="588.90" y1="220.20" x2="594.10" y2="220.20" stroke="#ff0000" stroke-width="0.7" stroke-dasharray="1,1.2" stroke-opacity="0.7"/>
<line x1="594.10" y1="220.20" x2="599.50" y2="216.40" stroke="#ff0000" stroke-width="0.7" stroke-dasharray="1,1.2" stroke-opacity="0.7"/>
<line x1="599.50" y1="216.40" x2="604.30" y2="206.60" stroke="#ff0000" stroke-width="0.7" stroke-dasharray="1,1.2" stroke-opacity="0.7"/>
<line x1="604.30" y1="206.60" x2="609.60" y2="195.40" stroke="#ff0000" stroke-width="0.7" stroke-dasharray="1,1.2" stroke-opacity="0.7"/>
<line x1="609.60" y1="195.40" x2="619.80" y2="173.00" stroke="#ff0000" stroke-width="0.7" stroke-dasharray="1,1.2" stroke-opacity="0.7"/>
<line x1="619.80" y1="173.00" x2="629.90" y2="157.70" stroke="#ff0000" stroke-width="0.7" stroke-dasharray="1,1.2" stroke-opacity="0.7"/>
<line x1="629.90" y1="157.70" x2="639.80" y2="146.70" stroke="#ff0000" stroke-width="0.7" stroke-dasharray="1,1.2" stroke-opacity="0.7"/>
<line x1="639.80" y1="146.70" x2="650.00" y2="135.40" stroke="#ff0000" stroke-width="0.7" stroke-dasharray="1,1.2" stroke-opacity="0.7"/>
<line x1="650.00" y1="135.40" x2="660.20" y2="117.80" stroke="#ff0000" stroke-width="0.7" stroke-dasharray="1,1.2" stroke-opacity="0.7"/>
<line x1="660.20" y1="117.80" x2="670.10" y2="111.30" stroke="#ff0000" stroke-width="0.7" stroke-dasharray="1,1.2" stroke-opacity="0.7"/>
<line x1="670.10" y1="111.30" x2="680.40" y2="108.90" stroke="#ff0000" stroke-width="0.7" stroke-dasharray="1,1.2" stroke-opacity="0.7"/>
<line x1="680.40" y1="108.90" x2="690.40" y2="103.30" stroke="#ff0000" stroke-width="0.7" stroke-dasharray="1,1.2" stroke-opacity="0.7"/>
<line x1="690.40" y1="103.30" x2="720.90" y2="92.00" stroke="#ff0000" stroke-width="0.7" stroke-dasharray="1,1.2" stroke-opacity="0.7"/>
<rect x="593.00" y="211.70" width="3.00" height="3.00" fill="#00ee00"/>
<rect x="597.80" y="194.20" width="3.00" height="3.00" fill="#00ee00"/>
<rect x="602.80" y="180.10" width="3.00" height="3.00" fill="#00ee00"/>
<rect x="608.10" y="158.70" width="3.00" height="3.00" fill="#00ee00"/>
<rect x="618.00" y="150.60" width="3.00" height="3.00" fill="#00ee00"/>
<rect x="628.10" y="147.20" width="3.00" height="3.00" fill="#00ee00"/>
<rect x="638.60" y="138.40" width="3.00" height="3.00" fill="#00ee00"/>
<rect x="648.50" y="137.60" width="3.00" height="3.00" fill="#00ee00"/>
<rect x="658.70" y="137.60" width="3.00" height="3.00" fill="#00ee00"/>
<rect x="668.60" y="131.80" width="3.00" height="3.00" fill="#00ee00"/>
<rect x="679.10" y="126.70" width="3.00" height="3.00" fill="#00ee00"/>
<rect x="688.90" y="121.60" width="3.00" height="3.00" fill="#00ee00"/>
<rect x="719.40" y="107.70" width="3.00" height="3.00" fill="#00ee00"/>
<path d="M571.60,221.90 L575.60,221.90 L573.60,218.50 Z" fill="#ff0000"/>
<path d="M576.90,221.90 L580.90,221.90 L578.90,218.50 Z" fill="#ff0000"/>
<path d="M581.90,221.90 L585.90,221.90 L583.90,218.50 Z" fill="#ff0000"/>
<path d="M586.90,221.90 L590.90,221.90 L588.90,218.50 Z" fill="#ff0000"/>
<path d="M592.10,221.90 L596.10,221.90 L594.10,218.50 Z" fill="#ff0000"/>
<path d="M597.50,218.10 L601.50,218.10 L599.50,214.70 Z" fill="#ff0000"/>
<path d="M602.30,208.30 L606.30,208.30 L604.30,204.90 Z" fill="#ff0000"/>
<path d="M607.60,197.10 L611.60,197.10 L609.60,193.70 Z" fill="#ff0000"/>
<path d="M617.80,174.70 L621.80,174.70 L619.80,171.30 Z" fill="#ff0000"/>
<path d="M627.90,159.40 L631.90,159.40 L629.90,156.00 Z" fill="#ff0000"/>
<path d="M637.80,148.40 L641.80,148.40 L639.80,145.00 Z" fill="#ff0000"/>
<path d="M648.00,137.10 L652.00,137.10 L650.00,133.70 Z" fill="#ff0000"/>
<path d="M658.20,119.50 L662.20,119.50 L660.20,116.10 Z" fill="#ff0000"/>
<path d="M668.10,113.00 L672.10,113.00 L670.10,109.60 Z" fill="#ff0000"/>
<path d="M678.40,110.60 L682.40,110.60 L680.40,107.20 Z" fill="#ff0000"/>
<path d="M688.40,105.00 L692.40,105.00 L690.40,101.60 Z" fill="#ff0000"/>
<path d="M718.90,93.70 L722.90,93.70 L720.90,90.30 Z" fill="#ff0000"/>
<rect x="709.90" y="199.90" width="3.00" height="3.00" fill="#00ee00"/>
<path d="M709.30,213.20 L713.50,213.20 L711.40,209.40 Z" fill="#ff0000"/>
<rect x="237.80" y="290.60" width="300.80" height="229.90" fill="none" stroke="#333333" stroke-width="1.1"/>
<line x1="233.30" y1="514.30" x2="237.80" y2="514.30" stroke="#333333" stroke-width="1.1"/>
<line x1="233.30" y1="473.50" x2="237.80" y2="473.50" stroke="#333333" stroke-width="1.1"/>
<line x1="233.30" y1="432.70" x2="237.80" y2="432.70" stroke="#333333" stroke-width="1.1"/>
<line x1="233.30" y1="391.90" x2="237.80" y2="391.90" stroke="#333333" stroke-width="1.1"/>
<line x1="233.30" y1="351.10" x2="237.80" y2="351.10" stroke="#333333" stroke-width="1.1"/>
<line x1="233.30" y1="310.30" x2="237.80" y2="310.30" stroke="#333333" stroke-width="1.1"/>
<line x1="235.60" y1="493.90" x2="237.80" y2="493.90" stroke="#333333" stroke-width="1.1"/>
<line x1="235.60" y1="453.10" x2="237.80" y2="453.10" stroke="#333333" stroke-width="1.1"/>
<line x1="235.60" y1="412.30" x2="237.80" y2="412.30" stroke="#333333" stroke-width="1.1"/>
<line x1="235.60" y1="371.50" x2="237.80" y2="371.50" stroke="#333333" stroke-width="1.1"/>
<line x1="235.60" y1="330.70" x2="237.80" y2="330.70" stroke="#333333" stroke-width="1.1"/>
<line x1="237.90" y1="520.50" x2="237.90" y2="525.00" stroke="#333333" stroke-width="1.1"/>
<line x1="280.82" y1="520.50" x2="280.82" y2="525.00" stroke="#333333" stroke-width="1.1"/>
<line x1="323.74" y1="520.50" x2="323.74" y2="525.00" stroke="#333333" stroke-width="1.1"/>
<line x1="366.66" y1="520.50" x2="366.66" y2="525.00" stroke="#333333" stroke-width="1.1"/>
<line x1="409.58" y1="520.50" x2="409.58" y2="525.00" stroke="#333333" stroke-width="1.1"/>
<line x1="452.50" y1="520.50" x2="452.50" y2="525.00" stroke="#333333" stroke-width="1.1"/>
<line x1="495.42" y1="520.50" x2="495.42" y2="525.00" stroke="#333333" stroke-width="1.1"/>
<line x1="538.34" y1="520.50" x2="538.34" y2="525.00" stroke="#333333" stroke-width="1.1"/>
<line x1="259.36" y1="520.50" x2="259.36" y2="522.70" stroke="#333333" stroke-width="1.1"/>
<line x1="302.28" y1="520.50" x2="302.28" y2="522.70" stroke="#333333" stroke-width="1.1"/>
<line x1="345.20" y1="520.50" x2="345.20" y2="522.70" stroke="#333333" stroke-width="1.1"/>
<line x1="388.12" y1="520.50" x2="388.12" y2="522.70" stroke="#333333" stroke-width="1.1"/>
<line x1="431.04" y1="520.50" x2="431.04" y2="522.70" stroke="#333333" stroke-width="1.1"/>
<line x1="473.96" y1="520.50" x2="473.96" y2="522.70" stroke="#333333" stroke-width="1.1"/>
<line x1="516.88" y1="520.50" x2="516.88" y2="522.70" stroke="#333333" stroke-width="1.1"/>
<line x1="263.65" y1="514.30" x2="276.40" y2="479.60" stroke="#00ee00" stroke-width="0.7" stroke-opacity="0.7"/>
<line x1="276.40" y1="479.60" x2="289.30" y2="461.70" stroke="#00ee00" stroke-width="0.7" stroke-opacity="0.7"/>
<line x1="289.30" y1="461.70" x2="315.20" y2="423.00" stroke="#00ee00" stroke-width="0.7" stroke-dasharray="1,1.3" stroke-opacity="0.7"/>
<line x1="315.20" y1="423.00" x2="340.90" y2="387.90" stroke="#00ee00" stroke-width="0.7" stroke-dasharray="1,1.3" stroke-opacity="0.7"/>
<line x1="340.90" y1="387.90" x2="366.50" y2="379.10" stroke="#00ee00" stroke-width="0.7" stroke-dasharray="2,1.5" stroke-opacity="0.7"/>
<line x1="366.50" y1="379.10" x2="392.70" y2="370.70" stroke="#00ee00" stroke-width="0.7" stroke-dasharray="1,1.3" stroke-opacity="0.7"/>
<line x1="392.70" y1="370.70" x2="418.40" y2="358.20" stroke="#00ee00" stroke-width="0.7" stroke-dasharray="3,1.5,1,1.5" stroke-opacity="0.7"/>
<line x1="418.40" y1="358.20" x2="470.20" y2="345.60" stroke="#00ee00" stroke-width="0.7" stroke-dasharray="1,1.3" stroke-opacity="0.7"/>
<line x1="470.20" y1="345.60" x2="496.10" y2="339.40" stroke="#00ee00" stroke-width="0.7" stroke-dasharray="1,1.3" stroke-opacity="0.7"/>
<line x1="237.90" y1="514.30" x2="266.00" y2="514.30" stroke="#00ee00" stroke-width="0.7" stroke-opacity="0.7"/>
<line x1="263.65" y1="514.30" x2="276.40" y2="511.80" stroke="#ff0000" stroke-width="0.7" stroke-dasharray="2,2" stroke-opacity="0.7"/>
<line x1="276.40" y1="511.80" x2="289.60" y2="503.50" stroke="#ff0000" stroke-width="0.7" stroke-opacity="0.7"/>
<line x1="289.60" y1="503.50" x2="315.50" y2="499.80" stroke="#ff0000" stroke-width="0.7" stroke-dasharray="2,2" stroke-opacity="0.7"/>
<line x1="315.50" y1="499.80" x2="340.90" y2="458.50" stroke="#ff0000" stroke-width="0.7" stroke-opacity="0.7"/>
<line x1="340.90" y1="458.50" x2="367.00" y2="427.60" stroke="#ff0000" stroke-width="0.7" stroke-opacity="0.7"/>
<line x1="367.00" y1="427.60" x2="392.50" y2="410.20" stroke="#ff0000" stroke-width="0.7" stroke-opacity="0.7"/>
<line x1="392.50" y1="410.20" x2="418.40" y2="407.50" stroke="#ff0000" stroke-width="0.7" stroke-dasharray="2,2" stroke-opacity="0.7"/>
<line x1="418.40" y1="407.50" x2="470.20" y2="370.30" stroke="#ff0000" stroke-width="0.7" stroke-opacity="0.7"/>
<line x1="470.20" y1="370.30" x2="495.80" y2="320.60" stroke="#ff0000" stroke-width="0.7" stroke-opacity="0.7"/>
<rect x="238.18" y="512.00" width="4.60" height="4.60" fill="#00ee00"/>
<rect x="240.75" y="512.00" width="4.60" height="4.60" fill="#00ee00"/>
<rect x="243.33" y="512.00" width="4.60" height="4.60" fill="#00ee00"/>
<rect x="245.90" y="512.00" width="4.60" height="4.60" fill="#00ee00"/>
<rect x="248.48" y="512.00" width="4.60" height="4.60" fill="#00ee00"/>
<rect x="251.05" y="512.00" width="4.60" height="4.60" fill="#00ee00"/>
<rect x="253.63" y="512.00" width="4.60" height="4.60" fill="#00ee00"/>
<rect x="256.20" y="512.00" width="4.60" height="4.60" fill="#00ee00"/>
<rect x="258.78" y="512.00" width="4.60" height="4.60" fill="#00ee00"/>
<rect x="261.35" y="512.00" width="4.60" height="4.60" fill="#00ee00"/>
<rect x="274.10" y="477.30" width="4.60" height="4.60" fill="#00ee00"/>
<rect x="287.00" y="459.40" width="4.60" height="4.60" fill="#00ee00"/>
<rect x="312.90" y="420.70" width="4.60" height="4.60" fill="#00ee00"/>
<rect x="338.60" y="385.60" width="4.60" height="4.60" fill="#00ee00"/>
<rect x="364.20" y="376.80" width="4.60" height="4.60" fill="#00ee00"/>
<rect x="390.40" y="368.40" width="4.60" height="4.60" fill="#00ee00"/>
<rect x="416.10" y="355.90" width="4.60" height="4.60" fill="#00ee00"/>
<rect x="467.90" y="343.30" width="4.60" height="4.60" fill="#00ee00"/>
<rect x="493.80" y="337.10" width="4.60" height="4.60" fill="#00ee00"/>
<path d="M238.25,515.90 L241.85,515.90 L240.05,512.70 Z" fill="#ff0000"/>
<path d="M240.39,515.90 L243.99,515.90 L242.19,512.70 Z" fill="#ff0000"/>
<path d="M242.54,515.90 L246.14,515.90 L244.34,512.70 Z" fill="#ff0000"/>
<path d="M244.68,515.90 L248.28,515.90 L246.48,512.70 Z" fill="#ff0000"/>
<path d="M246.83,515.90 L250.43,515.90 L248.63,512.70 Z" fill="#ff0000"/>
<path d="M248.98,515.90 L252.58,515.90 L250.78,512.70 Z" fill="#ff0000"/>
<path d="M251.12,515.90 L254.72,515.90 L252.92,512.70 Z" fill="#ff0000"/>
<path d="M253.27,515.90 L256.87,515.90 L255.07,512.70 Z" fill="#ff0000"/>
<path d="M255.41,515.90 L259.01,515.90 L257.21,512.70 Z" fill="#ff0000"/>
<path d="M257.56,515.90 L261.16,515.90 L259.36,512.70 Z" fill="#ff0000"/>
<path d="M259.71,515.90 L263.31,515.90 L261.51,512.70 Z" fill="#ff0000"/>
<path d="M261.85,515.90 L265.45,515.90 L263.65,512.70 Z" fill="#ff0000"/>
<path d="M274.60,513.40 L278.20,513.40 L276.40,510.20 Z" fill="#ff0000"/>
<path d="M287.80,505.10 L291.40,505.10 L289.60,501.90 Z" fill="#ff0000"/>
<path d="M313.70,501.40 L317.30,501.40 L315.50,498.20 Z" fill="#ff0000"/>
<path d="M339.10,460.10 L342.70,460.10 L340.90,456.90 Z" fill="#ff0000"/>
<path d="M365.20,429.20 L368.80,429.20 L367.00,426.00 Z" fill="#ff0000"/>
<path d="M390.70,411.80 L394.30,411.80 L392.50,408.60 Z" fill="#ff0000"/>
<path d="M416.60,409.10 L420.20,409.10 L418.40,405.90 Z" fill="#ff0000"/>
<path d="M468.40,371.90 L472.00,371.90 L470.20,368.70 Z" fill="#ff0000"/>
<path d="M494.00,322.20 L497.60,322.20 L495.80,319.00 Z" fill="#ff0000"/>
<rect x="479.4" y="481.3" width="52.2" height="29.2" fill="none" stroke="#444" stroke-width="0.9"/>
<rect x="496.10" y="487.70" width="4.60" height="4.60" fill="#00ee00"/>
<line x1="486.10" y1="503.50" x2="511.00" y2="503.50" stroke="#ff0000" stroke-width="0.8"/>
<path d="M496.30,504.70 L500.50,504.70 L498.40,501.30 Z" fill="#ff0000"/>
<g style="filter:grayscale(1)">
<text x="24.80" y="228.60" font-size="9" text-anchor="end" fill="#222">0.0</text>
<text x="24.80" y="185.06" font-size="9" text-anchor="end" fill="#222">0.2</text>
<text x="24.80" y="141.52" font-size="9" text-anchor="end" fill="#222">0.4</text>
<text x="24.80" y="97.98" font-size="9" text-anchor="end" fill="#222">0.6</text>
<text x="24.80" y="54.44" font-size="9" text-anchor="end" fill="#222">0.8</text>
<text x="24.80" y="10.90" font-size="9" text-anchor="end" fill="#222">1.0</text>
<text x="32.40" y="250.50" font-size="9" text-anchor="middle" fill="#222">0</text>
<text x="76.36" y="250.50" font-size="9" text-anchor="middle" fill="#222">200</text>
<text x="120.32" y="250.50" font-size="9" text-anchor="middle" fill="#222">400</text>
<text x="164.28" y="250.50" font-size="9" text-anchor="middle" fill="#222">600</text>
<text x="208.24" y="250.50" font-size="9" text-anchor="middle" fill="#222">800</text>
<text x="252.20" y="250.50" font-size="9" text-anchor="middle" fill="#222">1000</text>
<text x="296.16" y="250.50" font-size="9" text-anchor="middle" fill="#222">1200</text>
<text x="340.12" y="250.50" font-size="9" text-anchor="middle" fill="#222">1400</text>
<text x="186.70" y="267.60" font-size="11" text-anchor="middle" fill="#222">V(mL)</text>
<text transform="translate(8.2,122) rotate(-90)" font-size="11" text-anchor="middle" fill="#222">C/C0</text>
<text x="42.30" y="25.90" font-size="13.6" text-anchor="start" fill="#222">(a)</text>
<text x="139.20" y="208.20" font-size="4.8" text-anchor="end" fill="#222">0</text>
<text x="139.20" y="182.28" font-size="4.8" text-anchor="end" fill="#222">20</text>
<text x="139.20" y="156.36" font-size="4.8" text-anchor="end" fill="#222">40</text>
<text x="139.20" y="130.44" font-size="4.8" text-anchor="end" fill="#222">60</text>
<text x="139.20" y="104.52" font-size="4.8" text-anchor="end" fill="#222">80</text>
<text x="139.20" y="78.60" font-size="4.8" text-anchor="end" fill="#222">100</text>
<text x="143.50" y="219.60" font-size="4.8" text-anchor="middle" fill="#222">0</text>
<text x="187.60" y="219.60" font-size="4.8" text-anchor="middle" fill="#222">50</text>
<text x="231.70" y="219.60" font-size="4.8" text-anchor="middle" fill="#222">100</text>
<text x="275.80" y="219.60" font-size="4.8" text-anchor="middle" fill="#222">150</text>
<text x="319.90" y="219.60" font-size="4.8" text-anchor="middle" fill="#222">200</text>
<text x="230.80" y="229.60" font-size="6.5" text-anchor="middle" fill="#222">V (mL)</text>
<text transform="translate(126.0,142) rotate(-90)" font-size="6.5" text-anchor="middle" fill="#222">C/C0</text>
<text x="153.80" y="75.20" font-size="6.5" text-anchor="start" fill="#222">Zoom in on graph</text>
<text x="308.00" y="196.80" font-size="7" text-anchor="start" fill="#222">Ni</text>
<text x="308.00" y="205.60" font-size="7" text-anchor="start" fill="#222">Cd</text>
<text x="437.80" y="231.50" font-size="9" text-anchor="end" fill="#222">0.0</text>
<text x="437.80" y="187.96" font-size="9" text-anchor="end" fill="#222">0.2</text>
<text x="437.80" y="144.42" font-size="9" text-anchor="end" fill="#222">0.4</text>
<text x="437.80" y="100.88" font-size="9" text-anchor="end" fill="#222">0.6</text>
<text x="437.80" y="57.34" font-size="9" text-anchor="end" fill="#222">0.8</text>
<text x="437.80" y="13.80" font-size="9" text-anchor="end" fill="#222">1.0</text>
<text x="445.40" y="254.60" font-size="9" text-anchor="middle" fill="#222">0</text>
<text x="497.06" y="254.60" font-size="9" text-anchor="middle" fill="#222">200</text>
<text x="548.72" y="254.60" font-size="9" text-anchor="middle" fill="#222">400</text>
<text x="600.38" y="254.60" font-size="9" text-anchor="middle" fill="#222">600</text>
<text x="652.04" y="254.60" font-size="9" text-anchor="middle" fill="#222">800</text>
<text x="703.70" y="254.60" font-size="9" text-anchor="middle" fill="#222">1000</text>
<text x="755.36" y="254.60" font-size="9" text-anchor="middle" fill="#222">1200</text>
<text x="600.50" y="271.10" font-size="11" text-anchor="middle" fill="#222">V (mL)</text>
<text transform="translate(420.1,124.4) rotate(-90)" font-size="11" text-anchor="middle" fill="#222">C/C0</text>
<text x="454.00" y="28.60" font-size="14" text-anchor="start" fill="#222">(b)</text>
<text x="564.00" y="221.90" font-size="4.8" text-anchor="end" fill="#222">0</text>
<text x="564.00" y="193.16" font-size="4.8" text-anchor="end" fill="#222">20</text>
<text x="564.00" y="164.42" font-size="4.8" text-anchor="end" fill="#222">40</text>
<text x="564.00" y="135.68" font-size="4.8" text-anchor="end" fill="#222">60</text>
<text x="564.00" y="106.94" font-size="4.8" text-anchor="end" fill="#222">80</text>
<text x="564.00" y="78.20" font-size="4.8" text-anchor="end" fill="#222">100</text>
<text x="569.40" y="234.00" font-size="4.8" text-anchor="middle" fill="#222">0</text>
<text x="611.57" y="234.00" font-size="4.8" text-anchor="middle" fill="#222">50</text>
<text x="653.75" y="234.00" font-size="4.8" text-anchor="middle" fill="#222">100</text>
<text x="695.92" y="234.00" font-size="4.8" text-anchor="middle" fill="#222">150</text>
<text x="738.10" y="234.00" font-size="4.8" text-anchor="middle" fill="#222">200</text>
<text x="653.30" y="245.20" font-size="6.5" text-anchor="middle" fill="#222">V (mL)</text>
<text transform="translate(551.0,156.2) rotate(-90)" font-size="6.5" text-anchor="middle" fill="#222">C/C0</text>
<text x="582.60" y="89.40" font-size="6.4" text-anchor="start" fill="#222">Zoom in on graph</text>
<text x="721.60" y="204.00" font-size="7" text-anchor="start" fill="#222">Ni</text>
<text x="721.60" y="214.00" font-size="7" text-anchor="start" fill="#222">Cd</text>
<text x="230.20" y="517.50" font-size="9" text-anchor="end" fill="#222">0.0</text>
<text x="230.20" y="476.70" font-size="9" text-anchor="end" fill="#222">0.2</text>
<text x="230.20" y="435.90" font-size="9" text-anchor="end" fill="#222">0.4</text>
<text x="230.20" y="395.10" font-size="9" text-anchor="end" fill="#222">0.6</text>
<text x="230.20" y="354.30" font-size="9" text-anchor="end" fill="#222">0.8</text>
<text x="230.20" y="313.50" font-size="9" text-anchor="end" fill="#222">1.0</text>
<text x="237.90" y="535.30" font-size="9" text-anchor="middle" fill="#222">0</text>
<text x="280.82" y="535.30" font-size="9" text-anchor="middle" fill="#222">200</text>
<text x="323.74" y="535.30" font-size="9" text-anchor="middle" fill="#222">400</text>
<text x="366.66" y="535.30" font-size="9" text-anchor="middle" fill="#222">600</text>
<text x="409.58" y="535.30" font-size="9" text-anchor="middle" fill="#222">800</text>
<text x="452.50" y="535.30" font-size="9" text-anchor="middle" fill="#222">1000</text>
<text x="495.42" y="535.30" font-size="9" text-anchor="middle" fill="#222">1200</text>
<text x="538.34" y="535.30" font-size="9" text-anchor="middle" fill="#222">1400</text>
<text x="388.50" y="553.80" font-size="11" text-anchor="middle" fill="#222">V (mL)</text>
<text transform="translate(212.3,405.4) rotate(-90)" font-size="11" text-anchor="middle" fill="#222">C/C0</text>
<text x="251.40" y="313.80" font-size="14" text-anchor="start" fill="#222">(c)</text>
<text x="514.60" y="493.70" font-size="10.5" text-anchor="start" fill="#222">Ni</text>
<text x="514.60" y="507.60" font-size="10.5" text-anchor="start" fill="#222">Cd</text>
</g>
</svg>
</body></html>
